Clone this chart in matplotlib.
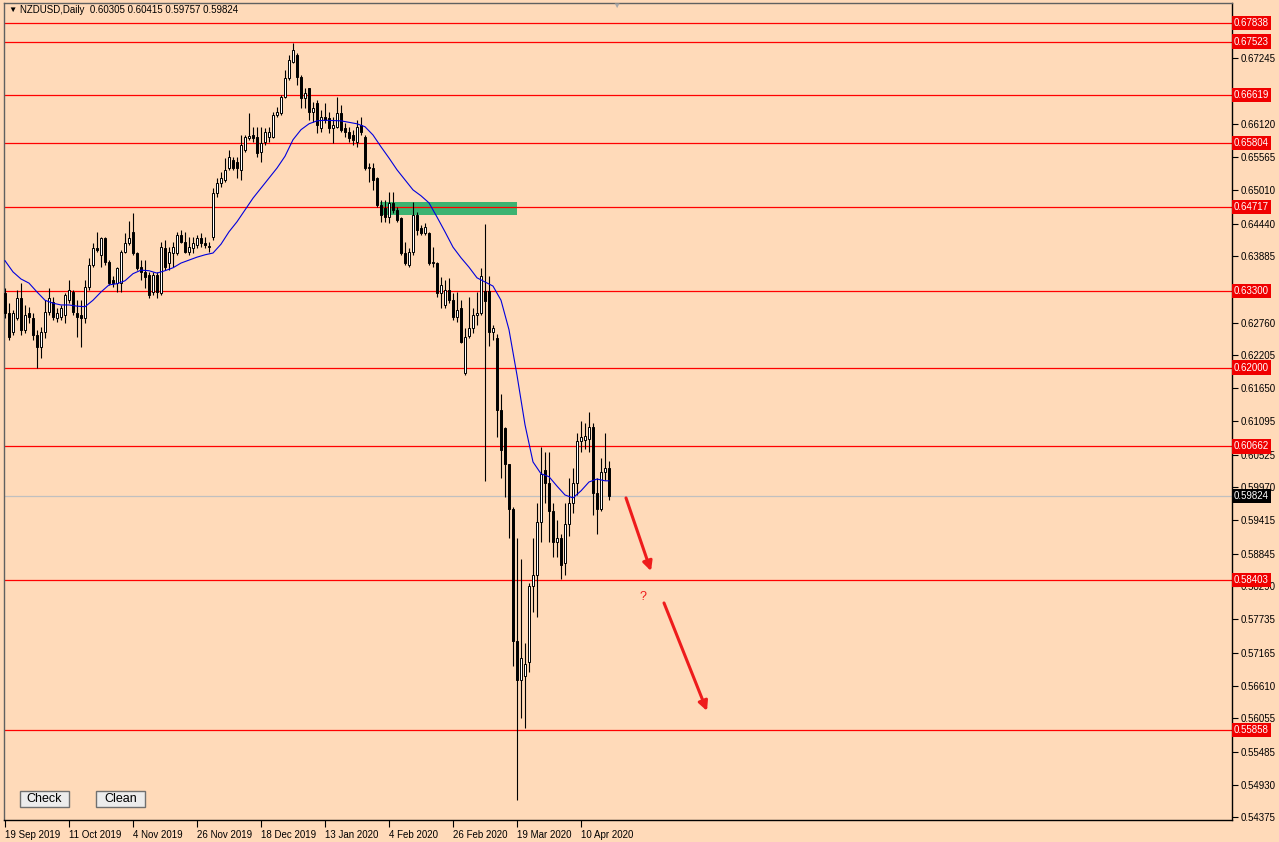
import numpy as np
import matplotlib.pyplot as plt
from matplotlib.patches import Rectangle
from matplotlib.transforms import blended_transform_factory

plt.rcParams['font.family'] = ['Liberation Sans', 'DejaVu Sans']

# daily NZDUSD candles (bar 0 = 19 Sep 2019)
opens = [
    0.6326, 0.6292, 0.6260, 0.6284, 0.6318, 0.6264, 0.6292, 0.6284, 0.6255, 0.6235,
    0.6260, 0.6294, 0.6311, 0.6284, 0.6286, 0.6289, 0.6314, 0.6328, 0.6292, 0.6289,
    0.6284, 0.6336, 0.6374, 0.6403, 0.6391, 0.6420, 0.6379, 0.6348, 0.6343, 0.6343,
    0.6396, 0.6411, 0.6430, 0.6394, 0.6370, 0.6362, 0.6357, 0.6328, 0.6357, 0.6326,
    0.6403, 0.6377, 0.6394, 0.6394, 0.6425, 0.6413, 0.6396, 0.6403, 0.6408, 0.6420,
    0.6411, 0.6406, 0.6421, 0.6496, 0.6513, 0.6518, 0.6538, 0.6552, 0.6548, 0.6535,
    0.6569, 0.6589, 0.6594, 0.6591, 0.6565, 0.6582, 0.6591, 0.6591, 0.6628, 0.6631,
    0.6658, 0.6691, 0.6718, 0.6730, 0.6692, 0.6657, 0.6674, 0.6633, 0.6648, 0.6606,
    0.6625, 0.6623, 0.6606, 0.6608, 0.6631, 0.6606, 0.6599, 0.6594, 0.6582, 0.6611,
    0.6591, 0.6538, 0.6538, 0.6521, 0.6475, 0.6470, 0.6455, 0.6479, 0.6467, 0.6453,
    0.6394, 0.6374, 0.6396, 0.6458, 0.6437, 0.6428, 0.6428, 0.6379, 0.6377, 0.6326,
    0.6306, 0.6331, 0.6314, 0.6286, 0.6301, 0.6191, 0.6253, 0.6267, 0.6289, 0.6292,
    0.6330, 0.6330, 0.6260, 0.6250, 0.6128, 0.6097, 0.6036, 0.5960, 0.5737, 0.5670,
    0.5677, 0.5701, 0.5830, 0.5848, 0.5938, 0.6026, 0.6004, 0.5956, 0.5904, 0.5911,
    0.5869, 0.5935, 0.5970, 0.6004, 0.6075, 0.6078, 0.6079, 0.6099, 0.5987, 0.5960,
    0.6023, 0.60305]
highs = [
    0.6335, 0.6309, 0.6298, 0.6331, 0.6343, 0.6306, 0.6303, 0.6292, 0.6264, 0.6269,
    0.6314, 0.6335, 0.6320, 0.6301, 0.6306, 0.6326, 0.6348, 0.6331, 0.6314, 0.6314,
    0.6348, 0.6386, 0.6411, 0.6430, 0.6421, 0.6421, 0.6382, 0.6355, 0.6370, 0.6399,
    0.6428, 0.6449, 0.6462, 0.6396, 0.6382, 0.6382, 0.6362, 0.6362, 0.6362, 0.6413,
    0.6416, 0.6404, 0.6413, 0.6430, 0.6433, 0.6430, 0.6421, 0.6421, 0.6425, 0.6428,
    0.6421, 0.6413, 0.6504, 0.6521, 0.6531, 0.6555, 0.6569, 0.6557, 0.6557, 0.6594,
    0.6594, 0.6631, 0.6608, 0.6608, 0.6608, 0.6606, 0.6608, 0.6633, 0.6642, 0.6662,
    0.6704, 0.6730, 0.6750, 0.6733, 0.6696, 0.6674, 0.6674, 0.6650, 0.6653, 0.6636,
    0.6648, 0.6633, 0.6625, 0.6658, 0.6645, 0.6614, 0.6608, 0.6603, 0.6619, 0.6625,
    0.6594, 0.6547, 0.6547, 0.6523, 0.6484, 0.6484, 0.6498, 0.6498, 0.6472, 0.6455,
    0.6413, 0.6403, 0.6481, 0.6464, 0.6442, 0.6445, 0.6430, 0.6404, 0.6379, 0.6353,
    0.6348, 0.6352, 0.6326, 0.6328, 0.6314, 0.6267, 0.6320, 0.6301, 0.6328, 0.6369,
    0.6443, 0.6355, 0.6272, 0.6257, 0.6155, 0.6099, 0.6036, 0.5964, 0.5911, 0.5876,
    0.5733, 0.5835, 0.5911, 0.5970, 0.6065, 0.6057, 0.6057, 0.5970, 0.5942, 0.5918,
    0.5970, 0.6013, 0.6030, 0.6089, 0.6109, 0.6106, 0.6125, 0.6106, 0.6013, 0.6047,
    0.6089, 0.60415]
lows = [
    0.6284, 0.6247, 0.6255, 0.6281, 0.6255, 0.6259, 0.6275, 0.6247, 0.6200, 0.6216,
    0.6250, 0.6289, 0.6281, 0.6277, 0.6281, 0.6275, 0.6309, 0.6289, 0.6252, 0.6235,
    0.6275, 0.6331, 0.6370, 0.6396, 0.6370, 0.6374, 0.6340, 0.6336, 0.6328, 0.6328,
    0.6394, 0.6408, 0.6391, 0.6365, 0.6348, 0.6335, 0.6318, 0.6323, 0.6318, 0.6323,
    0.6365, 0.6365, 0.6370, 0.6391, 0.6411, 0.6394, 0.6391, 0.6394, 0.6403, 0.6404,
    0.6403, 0.6396, 0.6416, 0.6489, 0.6506, 0.6514, 0.6535, 0.6535, 0.6521, 0.6518,
    0.6565, 0.6586, 0.6582, 0.6557, 0.6548, 0.6577, 0.6582, 0.6589, 0.6625, 0.6628,
    0.6657, 0.6687, 0.6716, 0.6679, 0.6640, 0.6640, 0.6619, 0.6616, 0.6597, 0.6599,
    0.6615, 0.6597, 0.6580, 0.6606, 0.6599, 0.6591, 0.6582, 0.6577, 0.6574, 0.6594,
    0.6535, 0.6514, 0.6501, 0.6472, 0.6447, 0.6447, 0.6445, 0.6462, 0.6447, 0.6391,
    0.6374, 0.6370, 0.6391, 0.6425, 0.6425, 0.6425, 0.6374, 0.6370, 0.6320, 0.6301,
    0.6301, 0.6309, 0.6281, 0.6277, 0.6242, 0.6187, 0.6250, 0.6259, 0.6272, 0.6289,
    0.6008, 0.6237, 0.6247, 0.6082, 0.6013, 0.5981, 0.5911, 0.5694, 0.5467, 0.5606,
    0.5589, 0.5684, 0.5786, 0.5777, 0.5904, 0.5970, 0.5904, 0.5879, 0.5879, 0.5842,
    0.5848, 0.5915, 0.5953, 0.5984, 0.6057, 0.6062, 0.6057, 0.5950, 0.5918, 0.5957,
    0.6010, 0.59757]
closes = [
    0.6292, 0.6252, 0.6292, 0.6318, 0.6264, 0.6289, 0.6286, 0.6255, 0.6235, 0.6260,
    0.6294, 0.6318, 0.6286, 0.6292, 0.6301, 0.6323, 0.6331, 0.6294, 0.6286, 0.6284,
    0.6336, 0.6374, 0.6403, 0.6399, 0.6420, 0.6379, 0.6343, 0.6343, 0.6369, 0.6396,
    0.6411, 0.6420, 0.6394, 0.6369, 0.6362, 0.6353, 0.6323, 0.6357, 0.6328, 0.6404,
    0.6370, 0.6396, 0.6404, 0.6425, 0.6413, 0.6396, 0.6404, 0.6411, 0.6420, 0.6411,
    0.6408, 0.6404, 0.6496, 0.6513, 0.6521, 0.6535, 0.6557, 0.6538, 0.6538, 0.6577,
    0.6591, 0.6592, 0.6589, 0.6564, 0.6580, 0.6599, 0.6599, 0.6628, 0.6633, 0.6658,
    0.6691, 0.6721, 0.6738, 0.6692, 0.6657, 0.6665, 0.6633, 0.6640, 0.6611, 0.6625,
    0.6619, 0.6606, 0.6611, 0.6631, 0.6603, 0.6599, 0.6589, 0.6586, 0.6608, 0.6599,
    0.6538, 0.6540, 0.6518, 0.6475, 0.6458, 0.6455, 0.6479, 0.6467, 0.6450, 0.6394,
    0.6377, 0.6396, 0.6458, 0.6433, 0.6428, 0.6438, 0.6377, 0.6377, 0.6326, 0.6340,
    0.6331, 0.6314, 0.6286, 0.6297, 0.6243, 0.6252, 0.6267, 0.6289, 0.6292, 0.6355,
    0.6313, 0.6260, 0.6267, 0.6128, 0.6060, 0.6036, 0.5960, 0.5737, 0.5670, 0.5708,
    0.5698, 0.5830, 0.5848, 0.5938, 0.6019, 0.6004, 0.5956, 0.5904, 0.5911, 0.5865,
    0.5935, 0.5970, 0.6004, 0.6075, 0.6082, 0.6084, 0.6099, 0.5987, 0.5960, 0.6023,
    0.6030, 0.59824]

# moving average (blue line), sampled from the chart
ma_bar = [0, 2, 4, 6, 8, 10, 12, 14, 16, 18, 20, 22, 24, 26, 28, 30, 32, 34, 36, 38,
          40, 42, 44, 46, 48, 50, 52, 54, 56, 58, 60, 62, 64, 66, 68, 70, 72, 74, 76, 78,
          80, 84, 88, 90, 92, 94, 96, 98, 100, 102, 104, 106, 108, 110, 112, 114, 116, 118,
          120, 122, 124, 126, 128, 130, 132, 134, 136, 138, 140, 142, 144, 146, 148, 150, 151]
ma_val = [0.6381, 0.6362, 0.6350, 0.6343, 0.6328, 0.6314, 0.6309, 0.6306, 0.6306, 0.6304,
          0.6303, 0.6314, 0.6328, 0.6340, 0.6342, 0.6347, 0.6359, 0.6365, 0.6364, 0.6360,
          0.6364, 0.6369, 0.6377, 0.6382, 0.6387, 0.6391, 0.6394, 0.6409, 0.6430, 0.6447,
          0.6467, 0.6487, 0.6504, 0.6521, 0.6538, 0.6558, 0.6586, 0.6603, 0.6613, 0.6618,
          0.6619, 0.6618, 0.6613, 0.6608, 0.6594, 0.6574, 0.6555, 0.6535, 0.6518, 0.6501,
          0.6491, 0.6479, 0.6455, 0.6430, 0.6404, 0.6386, 0.6370, 0.6352, 0.6345, 0.6338,
          0.6314, 0.6264, 0.6187, 0.6103, 0.6040, 0.6020, 0.6015, 0.5999, 0.5984, 0.5979,
          0.5991, 0.6006, 0.6011, 0.6008, 0.6008]

levels = [0.67838, 0.67523, 0.66619, 0.65804, 0.64717, 0.63300, 0.62000, 0.60662, 0.58403, 0.55858]
price_ticks = [0.67245, 0.66120, 0.65565, 0.65010, 0.64440, 0.63885,
               0.62760, 0.62205, 0.61650, 0.61095, 0.60525, 0.59970, 0.59415, 0.58845, 0.58290,
               0.57735, 0.57165, 0.56610, 0.56055, 0.55485, 0.54930, 0.54375]
date_bars = [0, 16, 32, 48, 64, 80, 96, 112, 128, 144]
date_labels = ['19 Sep 2019', '11 Oct 2019', '4 Nov 2019', '26 Nov 2019', '18 Dec 2019',
               '13 Jan 2020', '4 Feb 2020', '26 Feb 2020', '19 Mar 2020', '10 Apr 2020']

# supply zone and the drawn forecast arrows
zone_bars = (93.75, 128.0)
zone_prices = (0.6458, 0.6481)
arrow1 = ((155.25, 0.5979), (161.5, 0.5855))
arrow2 = ((164.75, 0.5801), (175.5, 0.5618))
qmark = (159.5, 0.5811)

bg = '#ffdab9'
W, H = 1279, 842
fig = plt.figure(figsize=(W / 100, H / 100), dpi=100, facecolor=bg)
ax = fig.add_axes([4 / W, 22 / H, 1228 / W, 817 / H])
ax.set_facecolor(bg)
ax.set_xlim(-0.25, 306.75)
ax.set_ylim(0.54332, 0.68177)

o = np.array(opens)
h = np.array(highs)
l = np.array(lows)
c = np.array(closes)
x = np.arange(len(o))

# zone and levels
ax.add_patch(Rectangle((zone_bars[0], zone_prices[0]), zone_bars[1] - zone_bars[0],
                       zone_prices[1] - zone_prices[0], color='#3cb371', lw=0, zorder=1))
for lv in levels:
    ax.axhline(lv, color='#ff0000', lw=0.9, zorder=2)
ax.axhline(closes[-1], color='#c0c0c0', lw=0.9, zorder=2)

# candles
up = c >= o
lo = np.minimum(o, c)
hh = np.maximum(np.abs(c - o), 0.00008)
ax.vlines(x, l, h, color='black', lw=0.8, zorder=4)
ax.bar(x[up], hh[up], bottom=lo[up], width=0.55, color='white', edgecolor='black', lw=0.7, zorder=5)
ax.bar(x[~up], hh[~up], bottom=lo[~up], width=0.55, color='black', edgecolor='black', lw=0.7, zorder=5)

ax.plot(ma_bar, ma_val, color='#0000dd', lw=0.8, zorder=6)

# arrows
for a in (arrow1, arrow2):
    ax.annotate('', xy=a[1], xytext=a[0],
                arrowprops=dict(arrowstyle='-|>', color='#ee1c1c', lw=2.2, mutation_scale=14,
                                shrinkA=0, shrinkB=0))
ax.text(qmark[0], qmark[1], '?', color='#ee1c1c', fontsize=9, ha='center', va='center')

# axes frame
for s in ['left', 'top']:
    ax.spines[s].set_color('#606060')
for s in ['right', 'bottom']:
    ax.spines[s].set_color('black')
for s in ax.spines.values():
    s.set_linewidth(1)

ax.yaxis.tick_right()
ax.set_yticks(price_ticks)
ax.set_yticklabels([f'{p:.5f}' for p in price_ticks])
ax.tick_params(axis='y', length=4, width=0.8, pad=2, labelsize=7, colors='black')
ax.set_xticks(date_bars)
ax.set_xticklabels(date_labels)
ax.tick_params(axis='x', length=5, width=0.8, pad=2, labelsize=7, colors='black')
for lbl in ax.get_xticklabels():
    lbl.set_ha('left')

# price boxes on the right axis
tr = blended_transform_factory(ax.transAxes, ax.transData)
for lv in levels:
    ax.text(1.0015, lv, f'{lv:.5f}', transform=tr, color='white', fontsize=7, va='center', ha='left',
            bbox=dict(boxstyle='square,pad=0.22', fc='#f00000', ec='none'), zorder=10, clip_on=False)
ax.text(1.0015, closes[-1], f'{closes[-1]:.5f}', transform=tr, color='white', fontsize=7, va='center',
        ha='left', bbox=dict(boxstyle='square,pad=0.22', fc='black', ec='none'), zorder=10, clip_on=False)

# header
fig.text(8 / W, 1 - 10 / H, '\u25bc', fontsize=6, va='center', ha='left', color='black')
fig.text(20 / W, 1 - 10 / H,
         f'NZDUSD,Daily  {opens[-1]:.5f} {highs[-1]:.5f} {lows[-1]:.5f} {closes[-1]:.5f}',
         fontsize=7, va='center', ha='left', color='black')
fig.text(616 / W, 1 - 6 / H, '\u25bc', fontsize=6, va='center', ha='center', color='#a8a8a8')

# buttons
for bx, name in [(20, 'Check'), (96, 'Clean')]:
    fig.add_artist(Rectangle((bx / W, 1 - 807 / H), 49 / W, 16 / H, transform=fig.transFigure,
                             fc='#ececec', ec='#707070', lw=1))
    fig.text((bx + 24.5) / W, 1 - 799 / H, name, fontsize=9, ha='center', va='center', color='black')

fig.savefig('out.png', dpi=100, facecolor=bg)
